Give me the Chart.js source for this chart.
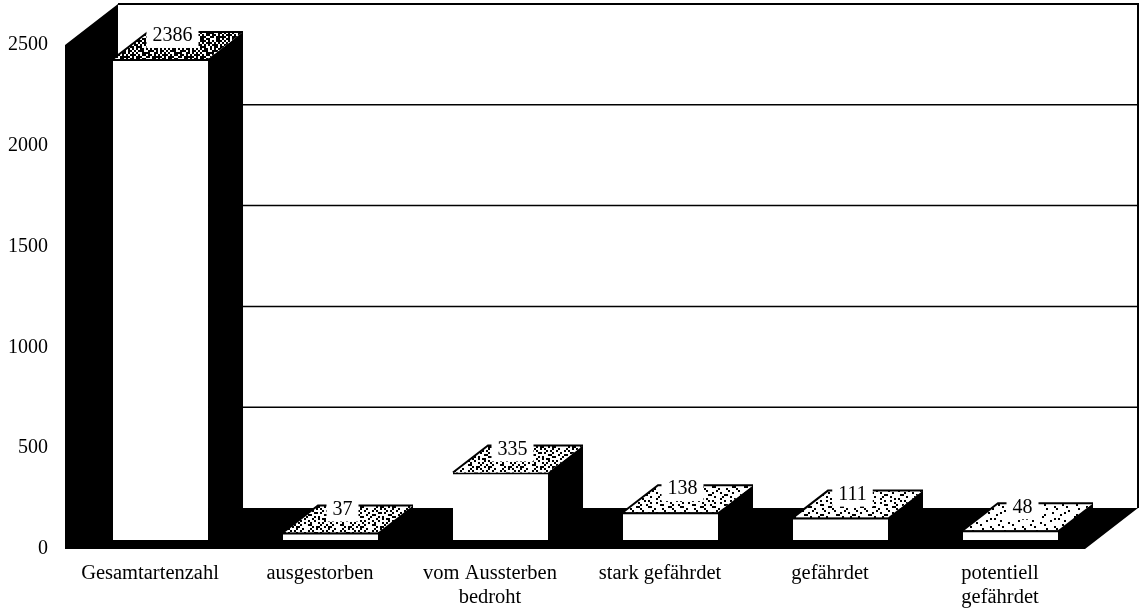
<!DOCTYPE html>
<html>
<head>
<meta charset="utf-8">
<style>
html, body { margin:0; padding:0; background:#fff; }
#wrap { width:1140px; height:611px; position:relative; }
</style>
<script src="https://cdn.jsdelivr.net/npm/chart.js@4/dist/chart.umd.min.js"></script>
</head>
<body>
<div id="wrap"><canvas id="chart" width="1140" height="611"></canvas></div>
<script>
const categories = ['Gesamtartenzahl', 'ausgestorben', ['vom Aussterben', 'bedroht'], 'stark gefährdet', 'gefährdet', ['potentiell', 'gefährdet']];
const species = [2386, 37, 335, 138, 111, 48];
const yTicks = [0, 500, 1000, 1500, 2000, 2500];

const FONT = '"Liberation Serif", "Times New Roman", serif';
// 3d offsets in px
const room = { dx: 53, dy: 41 };
const barFront = { dx: 10.5, dy: 9 };
const barDepth = { dx: 35, dy: 27 };

// speckle for the bar tops: a cell turns black when its digit is below the bar's density
const speckle = [
    '3816052749163058',
    '6294817305928471',
    '1570362948015736',
    '8429105673842910',
    '0637294185706329',
    '5182640397251846',
    '2946078513469207',
    '7301859246017385',
    '4658213970385142',
    '9027546318692560'
];
const densities = [6, 3, 3, 2, 2, 1];

function makePattern(ctx, density) {
    const c = document.createElement('canvas');
    c.width = 32;
    c.height = speckle.length * 2;
    const g = c.getContext('2d');
    g.fillStyle = '#fff';
    g.fillRect(0, 0, c.width, c.height);
    g.fillStyle = '#000';
    speckle.forEach((row, y) => {
        for (let x = 0; x < 16; x++) {
            if (Number(row[x]) < density) g.fillRect(x * 2, y * 2, 2, 2);
        }
    });
    return ctx.createPattern(c, 'repeat');
}
function poly(ctx, pts, fill) {
    ctx.beginPath();
    pts.forEach((p, i) => i ? ctx.lineTo(p[0], p[1]) : ctx.moveTo(p[0], p[1]));
    ctx.closePath();
    ctx.fillStyle = fill;
    ctx.fill();
}

const box3d = {
    id: 'box3d',
    // walls, floor and back gridlines
    beforeDatasetsDraw(chart) {
        const ctx = chart.ctx;
        const { left, right, top, bottom } = chart.chartArea;
        const y = chart.scales.y;
        ctx.save();
        ctx.strokeStyle = '#000';
        ctx.lineWidth = 2;
        ctx.beginPath();
        ctx.moveTo(left + room.dx, top - room.dy);
        ctx.lineTo(right + room.dx, top - room.dy);
        ctx.lineTo(right + room.dx, bottom - room.dy);
        ctx.stroke();
        ctx.lineWidth = 1.5;
        yTicks.slice(1, -1).forEach(v => {
            const py = y.getPixelForValue(v) - room.dy;
            ctx.beginPath();
            ctx.moveTo(left + room.dx, py);
            ctx.lineTo(right + room.dx, py);
            ctx.stroke();
        });
        poly(ctx, [
            [left, top], [left + room.dx, top - room.dy], [left + room.dx, bottom - room.dy],
            [right + room.dx, bottom - room.dy], [right, bottom], [left, bottom]
        ], '#000');
        // sides and tops of the bars
        chart.getDatasetMeta(0).data.forEach((bar, i) => {
            const x0 = bar.x - bar.width / 2 + barFront.dx;
            const x1 = bar.x + bar.width / 2 + barFront.dx;
            const yt = bar.y - barFront.dy;
            const yb = bar.base - barFront.dy;
            poly(ctx, [[x1, yt], [x1 + barDepth.dx, yt - barDepth.dy], [x1 + barDepth.dx, yb - barDepth.dy], [x1, yb]], '#000');
            poly(ctx, [[x0, yt], [x1, yt], [x1 + barDepth.dx, yt - barDepth.dy], [x0 + barDepth.dx, yt - barDepth.dy]], makePattern(ctx, densities[i]));
            ctx.lineWidth = 2;
            ctx.beginPath();
            ctx.moveTo(x0, yt);
            ctx.lineTo(x0 + barDepth.dx, yt - barDepth.dy);
            ctx.lineTo(x1 + barDepth.dx, yt - barDepth.dy);
            ctx.stroke();
        });
        ctx.restore();
        // front faces get shifted off the front edge of the floor
        ctx.save();
        ctx.translate(barFront.dx, -barFront.dy);
    },
    afterDatasetsDraw(chart) {
        const ctx = chart.ctx;
        ctx.restore();
        ctx.save();
        ctx.font = '20px ' + FONT;
        ctx.textAlign = 'center';
        ctx.textBaseline = 'middle';
        chart.getDatasetMeta(0).data.forEach((bar, i) => {
            const text = String(species[i]);
            const tw = ctx.measureText(text).width;
            const cx = bar.x + barFront.dx + 12;
            const cy = bar.y - barFront.dy - barDepth.dy + 4;
            ctx.fillStyle = '#fff';
            ctx.fillRect(cx - tw / 2 - 6, cy - 11, tw + 12, 23);
            ctx.fillStyle = '#000';
            ctx.fillText(text, cx, cy);
        });
        ctx.restore();
    }
};

new Chart(document.getElementById('chart'), {
    type: 'bar',
    data: {
        labels: categories,
        datasets: [{
            data: species,
            backgroundColor: '#fff',
            borderColor: '#000',
            borderWidth: { top: 2, left: 0, right: 0, bottom: 0 },
            borderSkipped: false,
            categoryPercentage: 1,
            barPercentage: 0.559
        }]
    },
    options: {
        responsive: false,
        animation: false,
        layout: { padding: { top: 45, right: 55, left: 0, bottom: 0 } },
        plugins: { legend: { display: false }, tooltip: { enabled: false } },
        scales: {
            x: {
                grid: { display: false },
                border: { display: false },
                afterFit: s => { s.height = 62; },
                ticks: { color: '#000', font: { family: FONT, size: 20.5, lineHeight: 1.17 }, padding: 5, maxRotation: 0, autoSkip: false }
            },
            y: {
                min: 0,
                max: 2500,
                afterFit: s => { s.width = 65; },
                grid: { display: false },
                border: { display: false },
                ticks: { color: '#000', font: { family: FONT, size: 20 }, stepSize: 500, padding: 9, callback: v => String(v) }
            }
        }
    },
    plugins: [box3d]
});
</script>
</body>
</html>
